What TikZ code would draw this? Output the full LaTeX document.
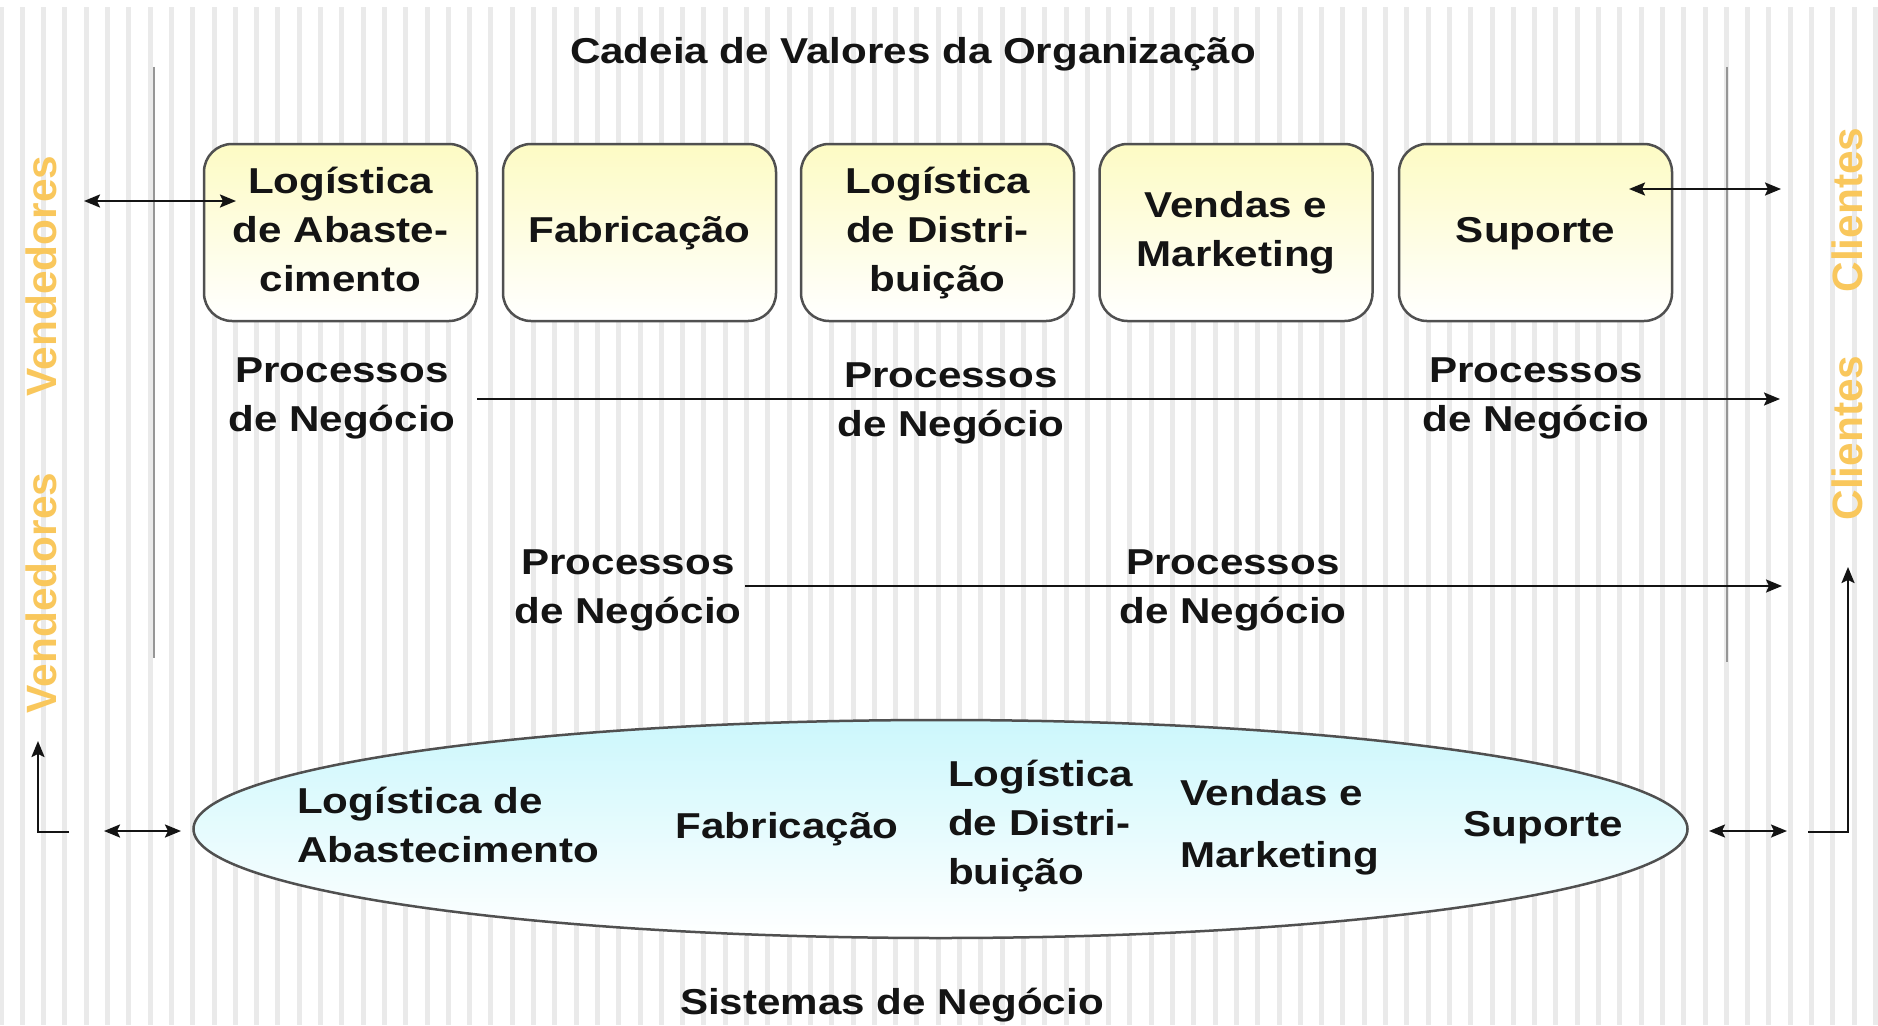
\documentclass[tikz,border=0pt]{standalone}
\usepackage{fontspec}
\setmainfont{Liberation Sans}
\usepackage{graphicx}
\usetikzlibrary{shapes.geometric,arrows.meta}
\definecolor{stripe}{RGB}{234,234,234}
\definecolor{boxtop}{RGB}{253,251,196}
\definecolor{elltop}{RGB}{204,247,252}
\definecolor{edge}{RGB}{80,80,80}
\definecolor{guide}{RGB}{150,150,150}
\definecolor{orangetxt}{RGB}{249,199,92}
\definecolor{ink}{RGB}{20,20,20}
\newcommand{\TX}[1]{\scalebox{1.17}[1]{\begin{tabular}{@{}c@{}}#1\end{tabular}}}
\newcommand{\TXL}[1]{\scalebox{1.17}[1]{\begin{tabular}{@{}l@{}}#1\end{tabular}}}
\begin{document}
\begin{tikzpicture}[x=1pt,y=-1pt,
  lbl/.style={font=\fontsize{36}{49}\selectfont\bfseries, text=ink, inner sep=0pt},
  stage/.style={lbl, draw=edge, line width=2.5pt, rounded corners=28pt, minimum width=273pt, minimum height=177pt, top color=boxtop, bottom color=white},
  side/.style={font=\fontsize{42.4}{50}\selectfont\bfseries, text=orangetxt, rotate=90, anchor=base, inner sep=0pt},
  tip/.tip={Stealth[length=16pt,width=13pt,inset=3pt]},
  link/.style={line width=2.2pt, draw=ink, -tip},
  dlink/.style={line width=2.2pt, draw=ink, tip-tip},
  guideline/.style={draw=guide, line width=1.5pt}
]
\fill[white] (0,0) rectangle (1878,1025);
\useasboundingbox (0,0) rectangle (1878,1025);
% stripes
\foreach \k in {0,...,88} \fill[stripe] ({1+21.3*\k-2.5},7) rectangle ++(5,1018);

% guide lines
\coordinate (gl1) at (154,67);
\coordinate (gl2) at (154,658);
\coordinate (gr1) at (1727,67);
\coordinate (gr2) at (1727,662);
\draw[guideline] (gl1) -- (gl2);
\draw[guideline] (gr1) -- (gr2);

% title
\node[lbl] (title) at (913,54) {\TX{Cadeia de Valores da Organização}};

% value chain boxes
\node[stage] (b1) at (340.5,232.5) {\TX{Logística\\de Abaste-\\cimento}};
\node[stage] (b2) at (639.5,232.5) {\TX{Fabricação}};
\node[stage] (b3) at (937.5,232.5) {\TX{Logística\\de Distri-\\buição}};
\node[stage] (b4) at (1236,232.5) {\TX{Vendas e\\Marketing}};
\node[stage] (b5) at (1535.5,232.5) {\TX{Suporte}};

% side labels
\node[side] (v1) at (56,276) {Vendedores};
\node[side] (v2) at (56,593) {Vendedores};
\node[side] (c1) at (1862,210) {Clientes};
\node[side] (c2) at (1862,438) {Clientes};

% process labels
\node[lbl] (p1) at (342,397) {\TX{Processos\\de Negócio}};
\node[lbl] (p2) at (951,402) {\TX{Processos\\de Negócio}};
\node[lbl] (p3) at (1536,397) {\TX{Processos\\de Negócio}};
\node[lbl] (p4) at (628,589) {\TX{Processos\\de Negócio}};
\node[lbl] (p5) at (1233,589) {\TX{Processos\\de Negócio}};

% arrows top
\coordinate (vIn) at (84,201);
\coordinate (b1In) at (236,201);
\draw[dlink] (vIn) -- (b1In);
\coordinate (b5Out) at (1629,189);
\coordinate (cOut) at (1781,189);
\draw[dlink] (b5Out) -- (cOut);

% process lines
\coordinate (l1s) at (477,399);
\coordinate (l1e) at (1780,399);
\draw[link] (l1s) -- (l1e);
\coordinate (l2s) at (745,586);
\coordinate (l2e) at (1782,586);
\draw[link] (l2s) -- (l2e);

% business systems ellipse
\node[ellipse, draw=edge, line width=2.5pt, minimum width=1494pt, minimum height=218pt, top color=elltop, bottom color=white, inner sep=0pt] (sys) at (940.5,829) {};
\node[lbl, anchor=west] (s1) at (297,828) {\TXL{Logística de\\Abastecimento}};
\node[lbl] (s2) at (787,829) {\TX{Fabricação}};
\node[lbl, anchor=west] (s3) at (948,826) {\TXL{Logística\\de Distri-\\buição}};
\node[lbl, anchor=west] (s4) at (1180,827) {\TXL{Vendas e\\[13pt]Marketing}};
\node[lbl] (s5) at (1543,827) {\TX{Suporte}};

\node[lbl] (bottom) at (892,1005) {\TX{Sistemas de Negócio}};

% bottom arrows
\coordinate (la) at (104,831);
\coordinate (lb) at (181,831);
\draw[dlink] (la) -- (lb);
\coordinate (ra) at (1709,831);
\coordinate (rb) at (1787,831);
\draw[dlink] (ra) -- (rb);

% L arrows
\coordinate (lL1) at (69,832);
\coordinate (lL2) at (38,832);
\coordinate (lL3) at (38,741);
\draw[link] (lL1) -- (lL2) -- (lL3);
\coordinate (rL1) at (1808,832);
\coordinate (rL2) at (1848,832);
\coordinate (rL3) at (1848,567);
\draw[link] (rL1) -- (rL2) -- (rL3);
\end{tikzpicture}
\end{document}
